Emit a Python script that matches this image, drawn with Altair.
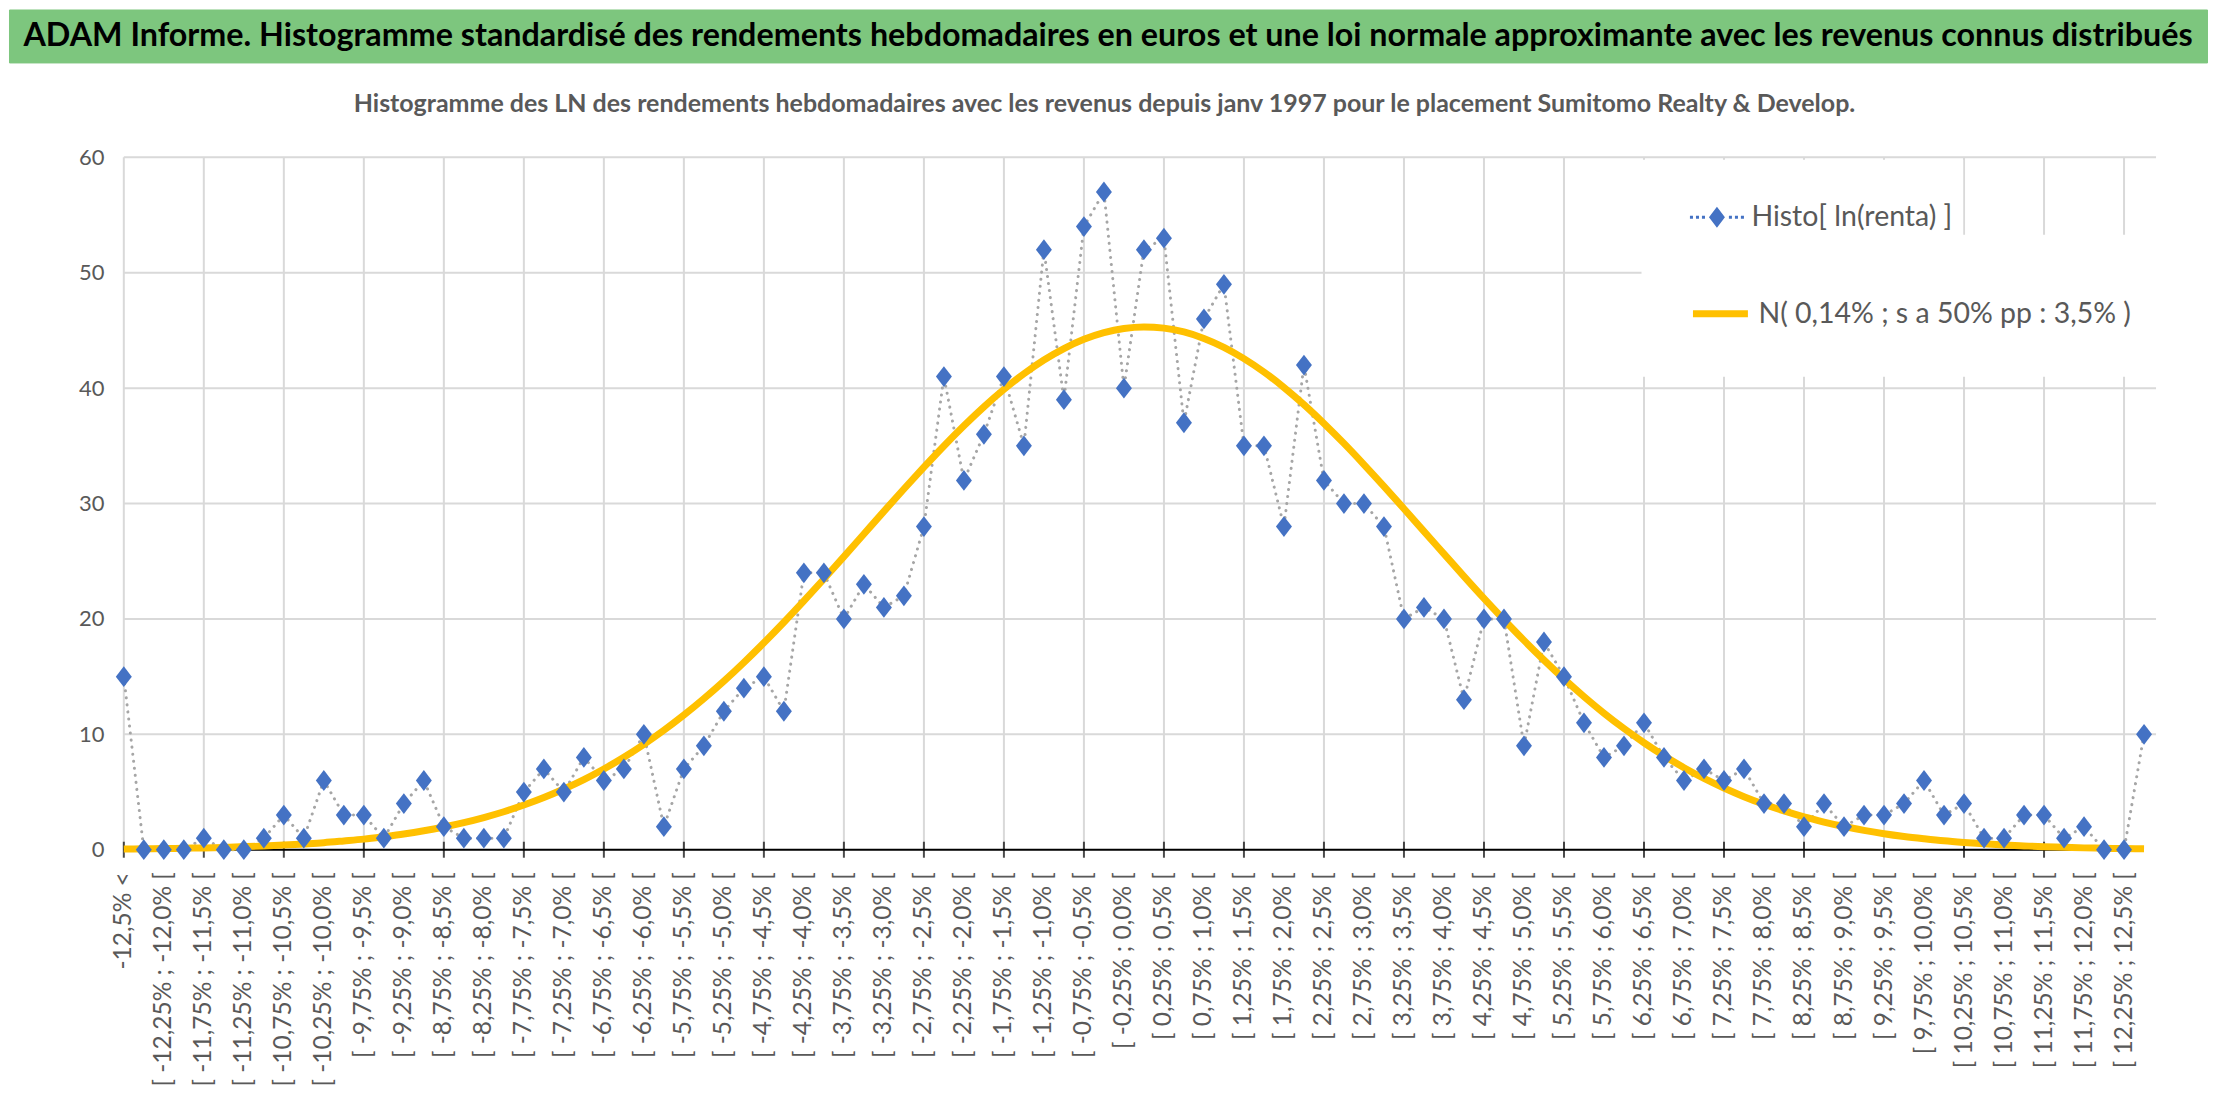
import json
import altair as alt
import pandas as pd

# ---------------- data ----------------
HISTO = [15, 0, 0, 0, 1, 0, 0, 1, 3, 1,
         6, 3, 3, 1, 4, 6, 2, 1, 1, 1,
         5, 7, 5, 8, 6, 7, 10, 2, 7, 9,
         12, 14, 15, 12, 24, 24, 20, 23, 21, 22,
         28, 41, 32, 36, 41, 35, 52, 39, 54, 57,
         40, 52, 53, 37, 46, 49, 35, 35, 28, 42,
         32, 30, 30, 28, 20, 21, 20, 13, 20, 20,
         9, 18, 15, 11, 8, 9, 11, 8, 6, 7,
         6, 7, 4, 4, 2, 4, 2, 3, 3, 4,
         6, 3, 4, 1, 1, 3, 3, 1, 2, 0,
         0, 10]

CURVE = [0.06, 0.08, 0.10, 0.13, 0.16, 0.20, 0.26, 0.32, 0.40, 0.50,
         0.61, 0.76, 0.92, 1.13, 1.36, 1.64, 1.97, 2.35, 2.79, 3.29,
         3.87, 4.52, 5.26, 6.08, 7.00, 8.01, 9.13, 10.35, 11.67, 13.09,
         14.61, 16.23, 17.93, 19.71, 21.56, 23.46, 25.40, 27.36, 29.32, 31.26,
         33.15, 34.99, 36.74, 38.38, 39.89, 41.25, 42.44, 43.43, 44.23, 44.81,
         45.17, 45.30, 45.20, 44.87, 44.31, 43.54, 42.56, 41.40, 40.06, 38.57,
         36.94, 35.21, 33.38, 31.49, 29.55, 27.59, 25.64, 23.69, 21.78, 19.93,
         18.14, 16.43, 14.80, 13.27, 11.83, 10.50, 9.27, 8.14, 7.11, 6.18,
         5.35, 4.60, 3.94, 3.36, 2.84, 2.40, 2.01, 1.68, 1.39, 1.15,
         0.95, 0.77, 0.63, 0.51, 0.41, 0.33, 0.26, 0.21, 0.16, 0.13,
         0.10, 0.08]


def fmt(v):
    v = round(v, 2)
    a = abs(v)
    s = f"{a:.2f}" if (a * 4) % 2 == 1 else f"{a:.1f}"
    return ("-" if v < 0 else "") + s.replace(".", ",") + "%"


CATEGORIES = (["-12,5% <"]
              + [f"[ {fmt(-12.75 + 0.25 * k)} ; {fmt(-12.5 + 0.25 * k)} [" for k in range(1, 101)]
              + ["12,5% <="])
LABELED = list(range(0, 101, 2))      # categories carrying a label
GRID_AT = list(range(0, 101, 4))      # vertical grid lines / tick marks
Y_TICKS = [0, 10, 20, 30, 40, 50, 60]

TITLE = ("ADAM Informe. Histogramme standardisé des rendements hebdomadaires en euros "
         "et une loi normale approximante avec les revenus connus distribués")
SUBTITLE = ("Histogramme des LN des rendements hebdomadaires avec les revenus depuis "
            "janv 1997 pour le placement Sumitomo Realty & Develop.")
S_HISTO = "Histo[ ln(renta) ]"
S_NORM = "N( 0,14% ; s a 50% pp : 3,5% )"

# ---------------- styling ----------------
FONT = "Lato, Liberation Sans, sans-serif"
GREY_TXT = "#595959"
GRID = "#D9D9D9"
BLUE = "#4472C4"
YELLOW = "#FFC000"
GREEN = "#7DC67E"

X_MIN, X_MAX = -5.74, 101.6          # left part of the view holds the y labels
PW, PH = 2149, 693

df = pd.DataFrame({"idx": list(range(len(HISTO))), "histo": HISTO, "curve": CURVE,
                   "sh": S_HISTO, "sn": S_NORM})
gdf = pd.DataFrame({"idx": GRID_AT})
hdf = pd.DataFrame({"v": Y_TICKS[1:]})
bdf = pd.DataFrame({"v": [0]})

xscale = alt.Scale(domain=[X_MIN, X_MAX], nice=False, zero=False)
yscale = alt.Scale(domain=[0, 60], nice=False)

xaxis = alt.Axis(values=LABELED, labelExpr=json.dumps(CATEGORIES) + "[datum.value]",
                 labelAngle=270, labelFont=FONT, labelFontSize=24.5, labelColor=GREY_TXT,
                 labelPadding=22, labelOverlap=False, labelBound=False, labelFlush=False,
                 labelLimit=500, ticks=False, grid=False, domain=False, title=None)
yaxis = alt.Axis(values=Y_TICKS, labelFont=FONT, labelFontSize=22, labelColor=GREY_TXT,
                 labelPadding=20, domain=False, ticks=False, grid=False, offset=-115,
                 title=None)

X = alt.X("idx:Q", scale=xscale, axis=xaxis)
X0 = alt.X(datum=0, scale=xscale, axis=xaxis)
X1 = alt.X2(datum=X_MAX)

hgrid = alt.Chart(hdf).mark_rule(color=GRID, strokeWidth=2).encode(
    x=X0, x2=X1, y=alt.Y("v:Q", scale=yscale, axis=yaxis))
vgrid = alt.Chart(gdf).mark_rule(color=GRID, strokeWidth=2).encode(
    x=X, y=alt.Y(datum=0, scale=yscale, axis=yaxis), y2=alt.Y2(datum=60))
base = alt.Chart(bdf).mark_rule(color="black", strokeWidth=2).encode(
    x=X0, x2=alt.X2(datum=100.8), y=alt.Y("v:Q", scale=yscale, axis=yaxis))
ticks = alt.Chart(gdf).mark_tick(orient="vertical", size=16, thickness=2, color="black").encode(
    x=X, y=alt.Y(datum=0, scale=yscale, axis=yaxis))

dotted = alt.Chart(df).mark_line(color="#A6A6A6", strokeWidth=3, strokeDash=[0.1, 7],
                                 strokeCap="round").encode(
    x=X, y=alt.Y("histo:Q", scale=yscale, axis=yaxis))

# legend glyph: dotted line with a diamond (drawn in the right part of a wide symbol box)
dots = [-0.116, 0.011, 0.137, 0.705, 0.832, 0.958]
glyph = "M0.421,-0.221L0.589,0L0.421,0.221L0.253,0Z" + "".join(
    f"M{d - 0.032:.3f},-0.032h0.064v0.064h-0.064Z" for d in dots)
PAD_TXT = "\u00a0" * 38   # widens the white legend box up to the plot edge

# legends live at the top level of the concat: positions are page coords minus 8
curve = alt.Chart(df).mark_line(strokeWidth=7, interpolate="monotone").encode(
    x=X, y=alt.Y("curve:Q", scale=yscale, axis=yaxis),
    stroke=alt.Stroke("sn:N", scale=alt.Scale(domain=[S_NORM], range=[YELLOW]),
                      legend=alt.Legend(title=None, orient="none", legendX=1634, legendY=225.5,
                                        padding=48, fillColor="white", symbolType="stroke",
                                        symbolSize=3025, symbolStrokeWidth=7,
                                        labelFont=FONT, labelFontSize=28.5, labelColor=GREY_TXT,
                                        labelOffset=7, labelLimit=1000)))

points = alt.Chart(df).mark_point(shape="M0,-1.3L1,0L0,1.3L-1,0Z", filled=True, size=256,
                                  opacity=1, strokeWidth=0).encode(
    x=X, y=alt.Y("histo:Q", scale=yscale, axis=yaxis),
    fill=alt.Fill("sh:N", scale=alt.Scale(domain=[S_HISTO], range=[BLUE]),
                  legend=alt.Legend(title=None, orient="none", legendX=1632, legendY=150.5,
                                    padding=10, fillColor="white", symbolType=glyph,
                                    symbolSize=9025, symbolStrokeWidth=0, symbolOpacity=1,
                                    labelFont=FONT, labelFontSize=28.5, labelColor=GREY_TXT,
                                    labelOffset=7, labelLimit=1000,
                                    labelExpr="datum.label + '" + PAD_TXT + "'")))

main = alt.layer(hgrid, vgrid, base, ticks, dotted, curve, points).properties(
    width=PW, height=PH,
    title=alt.TitleParams(text=SUBTITLE, font=FONT, fontSize=25, fontWeight="bold",
                          color=GREY_TXT, anchor="middle", frame="group", offset=29, dx=22))

header = alt.Chart(pd.DataFrame({"t": [TITLE]})).mark_text(
    font=FONT, fontSize=32.3, fontWeight="bold", color="black").encode(text="t:N").properties(
    width=2200, height=53, view=alt.ViewBackground(fill=GREEN, stroke=GREEN))

chart = alt.vconcat(header, main, spacing=29).properties(
    padding=0, background="white").configure_view(strokeWidth=0)

chart.save("out.html", embed_options={"renderer": "svg", "actions": False})
